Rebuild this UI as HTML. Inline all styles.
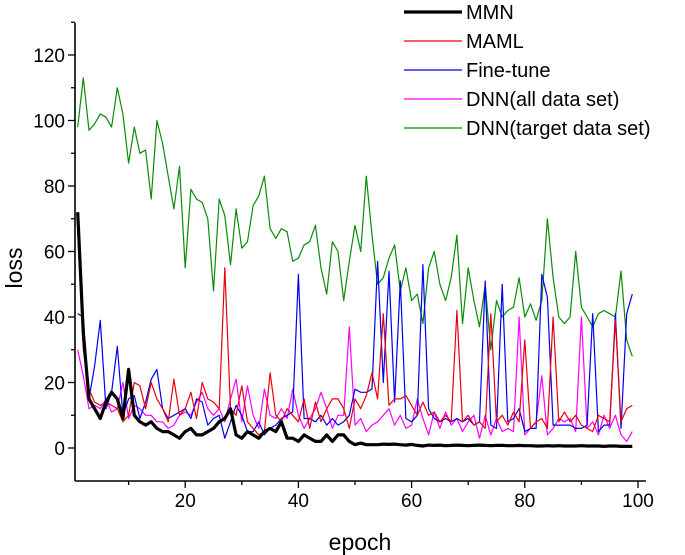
<!DOCTYPE html>
<html><head><meta charset="utf-8"><style>
body{margin:0;background:#fff}
svg{display:block;font-family:"Liberation Sans",Arial,sans-serif}
</style></head><body>
<svg id="chart" width="685" height="555" viewBox="0 0 685 555">
<g id="axes"></g>
<g id="series"></g>
<g id="legend"></g>
<text x="22" y="268" font-size="23" text-anchor="middle" transform="rotate(-90 22 268)">loss</text>
<text x="360" y="550" font-size="23" text-anchor="middle">epoch</text>
</svg>
<script>
const xTicks=[20,40,60,80,100];
const yTicks=[0,20,40,60,80,100,120];
const seriesNames=["MMN","MAML","Fine-tune","DNN(all data set)","DNN(target data set)"];
const mmn=[72,35,15,12,9,14,17,15,9,24,10,8,7,8,6,5,5,4,3,5,6,4,4,5,6,8,9,12,4,3,5,4,3,5,6,5,8,3,3,2,4,3,2,2,4,2,4,4,2,1,1.5,1,1,1,1.2,1.1,1.2,1,0.9,1.1,0.8,0.6,0.9,0.8,0.9,0.7,0.8,0.9,0.8,0.7,0.8,0.9,0.8,0.7,0.8,0.8,0.7,0.7,0.8,0.7,0.7,0.6,0.6,0.7,0.6,0.7,0.6,0.6,0.6,0.7,0.6,0.6,0.6,0.5,0.6,0.6,0.5,0.5,0.5];
const maml=[66,30,18,14,13,14,13,12,8,10,20,19,12,20,15,12,8,21,10,12,17,9,20,15,14,12,55,12,10,19,8,6,4,5,23,10,8,12,10,8,15,6,14,8,12,15,15,12,6,15,12,16,23,15,41,13,15,15,16,13,10,14,10,11,8,10,8,42,8,10,7,8,6,41,8,10,7,11,8,33,6,8,9,6,40,8,11,8,10,7,6,5,10,9,8,39,8,12,13];
const fineTune=[41,40,15,25,39,12,17,31,10,15,16,9,14,21,24,12,9,10,11,12,9,15,14,7,9,10,3,8,13,10,5,5,8,4,6,7,9,10,11,53,9,9,8,10,7,9,7,8,10,18,17,17,18,57,20,54,14,51,9,8,10,56,12,9,8,9,8,9,8,9,7,8,51,7,6,50,8,9,12,5,6,6,53,46,7,7,7,7,6,6,7,41,5,7,7,41,6,41,47];
const dnnAll=[30,22,12,13,12,15,11,12,20,9,13,12,10,10,8,8,6,7,10,11,10,14,17,12,10,12,8,15,21,8,19,10,6,18,10,9,12,9,18,10,6,9,12,17,12,6,10,10,37,7,9,5,7,8,10,12,7,10,6,7,15,9,4,11,6,11,7,9,5,8,10,3,10,4,9,5,6,5,40,4,6,8,22,4,6,9,8,9,5,40,6,8,4,10,6,10,4,2,5];
const dnnTarget=[98,113,97,99,102,101,98,110,102,87,98,90,91,76,100,93,83,73,86,55,79,76,75,70,48,76,71,56,73,61,63,74,77,83,67,64,67,66,57,58,62,63,68,55,47,63,60,45,57,68,60,83,65,50,52,58,62,48,55,45,47,38,55,60,50,45,52,65,38,55,45,37,50,30,45,40,42,43,52,40,44,39,45,70,52,40,38,40,60,43,40,37,41,42,41,40,54,33,28];
const colors=["#000","#e8000b","#0000ee","#ff00ff","#0a8a0a"];
const widths=[3.2,1.2,1.2,1.2,1.2];
const NS="http://www.w3.org/2000/svg";
const X=v=>72+5.66*v, Y=v=>448-3.275*v;
function mk(t,a,p){const e=document.createElementNS(NS,t);for(const k in a)e.setAttribute(k,a[k]);p.appendChild(e);return e;}
const ax=document.getElementById('axes');
let l=mk('line',{x1:75,y1:481,x2:646,y2:481,stroke:'#000','stroke-width':1.6},ax);


l=mk('line',{x1:75,y1:23,x2:75,y2:481,stroke:'#000','stroke-width':1.6},ax);


for(let v=10;v<=100;v+=10){const len=(v%20==0)?7:4;mk('line',{x1:X(v),y1:481,x2:X(v),y2:481+len,stroke:'#000','stroke-width':1.3},ax);}
xTicks.forEach(v=>{const t=mk('text',{x:X(v),y:507,'font-size':19,'text-anchor':'middle'},ax);t.textContent=v;

});
for(let v=0;v<=130;v+=10){const len=(v%20==0)?7:4;mk('line',{x1:75-len,y1:Y(v),x2:75,y2:Y(v),stroke:'#000','stroke-width':1.3},ax);}
yTicks.forEach(v=>{const t=mk('text',{x:65,y:Y(v)+7,'font-size':19,'text-anchor':'end'},ax);t.textContent=v;

});
const sg=document.getElementById('series');
const all=[mmn,maml,fineTune,dnnAll,dnnTarget];
const order=[4,3,2,1,0];
order.forEach(i=>{const d=all[i].map((v,j)=>(j?'L':'M')+X(j+1).toFixed(1)+','+Y(v).toFixed(1)).join('');
const p=mk('path',{d:d,fill:'none',stroke:colors[i],'stroke-width':widths[i],'stroke-linejoin':'round'},sg);

});
const lg=document.getElementById('legend');
const ly=[12,41,70,99,128];
seriesNames.forEach((n,i)=>{const g=mk('g',{},lg);


mk('line',{x1:404,y1:ly[i],x2:462,y2:ly[i],stroke:colors[i],'stroke-width':widths[i]},g);
const t=mk('text',{x:466,y:ly[i]+7,'font-size':20},g);t.textContent=n;});
</script>
</body></html>
